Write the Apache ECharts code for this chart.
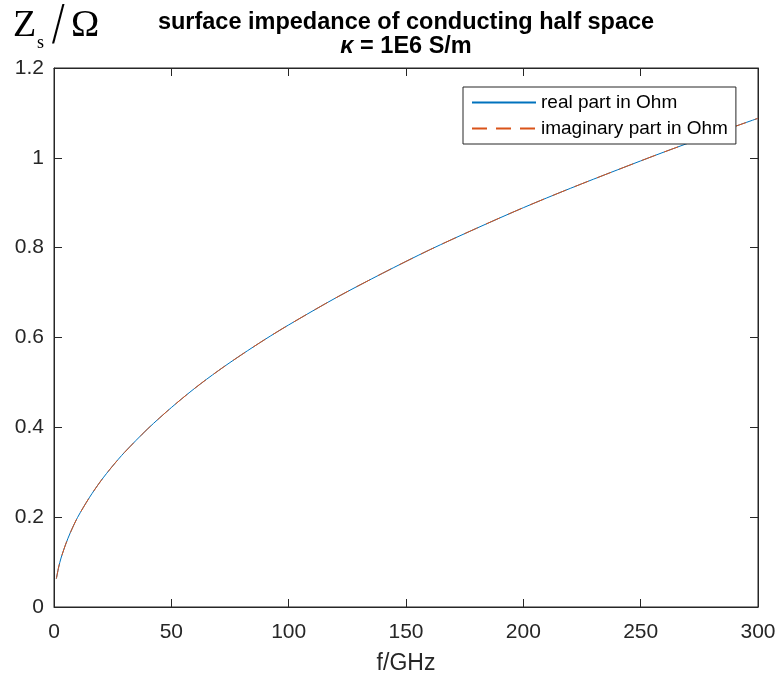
<!DOCTYPE html>
<html><head><meta charset="utf-8">
<script src="https://cdn.jsdelivr.net/npm/echarts@6/dist/echarts.min.js"></script>
<style>html,body{margin:0;padding:0;background:#fff}#c{width:780px;height:675px}</style>
</head><body><div id="c"></div>
<script>
const freqGHz = [1,2,3,5,7,10,15,20,25,30,40,50,60,70,80,90,100,120,140,160,180,200,220,240,260,280,300];
const realPart = [0.063,0.089,0.109,0.140,0.166,0.199,0.243,0.281,0.314,0.344,0.397,0.444,0.487,0.526,0.562,0.596,0.628,0.688,0.743,0.795,0.843,0.889,0.932,0.973,1.013,1.051,1.088];
const imagPart = [0.063,0.089,0.109,0.140,0.166,0.199,0.243,0.281,0.314,0.344,0.397,0.444,0.487,0.526,0.562,0.596,0.628,0.688,0.743,0.795,0.843,0.889,0.932,0.973,1.013,1.051,1.088];
const seriesNames = ['real part in Ohm','imaginary part in Ohm'];

const chart = echarts.init(document.getElementById('c'));
const axisCol = '#262626';
const font = 'Liberation Sans, Arial, sans-serif';
const serif = 'Liberation Serif, Times New Roman, serif';
function axis(extra){
  return Object.assign({
    axisLine:{show:true,onZero:false,lineStyle:{color:axisCol,width:1}},
    axisTick:{show:true,inside:true,length:8,lineStyle:{color:axisCol}},
    splitLine:{show:false},
    axisLabel:{color:axisCol,fontSize:21,fontFamily:font}
  },extra);
}
chart.setOption({
  animation:false,
  backgroundColor:'#fff',
  title:[
    {text:'surface impedance of conducting half space',left:406,top:11,textAlign:'center',padding:0,
     textStyle:{fontFamily:font,fontSize:23.5,fontWeight:'bold',color:'#000'}},
    {text:'{k|κ}{t| = 1E6 S/m}',left:406,top:35,textAlign:'center',padding:0,
     textStyle:{rich:{k:{fontFamily:font,fontSize:23.5,fontWeight:'bold',fontStyle:'italic',color:'#000'},
                      t:{fontFamily:font,fontSize:23.5,fontWeight:'bold',color:'#000'}}}}
  ],
  graphic:[
    {type:'text',x:13,y:26,style:{text:'Z',font:'38px '+serif,fill:'#000',verticalAlign:'middle'}},
    {type:'text',x:37,y:43,style:{text:'s',font:'18px '+serif,fill:'#000',verticalAlign:'middle'}},
    {type:'text',x:52,y:27,scaleX:0.75,style:{text:'/',font:'60px '+serif,fill:'#000',verticalAlign:'middle'}},
    {type:'text',x:71,y:26,style:{text:'Ω',font:'38px '+serif,fill:'#000',verticalAlign:'middle'}}
  ],
  legend:{orient:'vertical',left:463,top:87,data:seriesNames,
    backgroundColor:'#fff',borderColor:axisCol,borderWidth:1,padding:[6,8,6,8],
    itemWidth:64,itemHeight:20,itemGap:7,
    itemStyle:{opacity:0},
    textStyle:{fontFamily:font,fontSize:19,color:'#000'}},
  grid:{left:54,right:22,top:68,bottom:68,show:true,borderColor:axisCol,borderWidth:1,
    containLabel:false,outerBoundsMode:'none'},
  xAxis:[
    axis({type:'value',min:0,max:300,interval:50,position:'bottom',
      name:'f/GHz',nameLocation:'middle',nameGap:45,nameTextStyle:{fontFamily:font,fontSize:23,color:axisCol},
      axisLabel:{color:axisCol,fontSize:21,fontFamily:font,margin:15}}),
    axis({type:'value',min:0,max:300,interval:50,position:'top',axisLabel:{show:false}})
  ],
  yAxis:[
    axis({type:'value',min:0,max:1.2,interval:0.2,position:'left',
      axisLabel:{color:axisCol,fontSize:21,fontFamily:font,margin:10,formatter:v=>String(+v.toFixed(1))}}),
    axis({type:'value',min:0,max:1.2,interval:0.2,position:'right',axisLabel:{show:false}})
  ],
  series:[
    {name:seriesNames[0],type:'line',symbol:'none',smooth:0.3,
     data:freqGHz.map((f,i)=>[f,realPart[i]]),lineStyle:{color:'#0072BD',width:1},itemStyle:{color:'#0072BD'}},
    {name:seriesNames[1],type:'line',symbol:'none',smooth:0.3,
     data:freqGHz.map((f,i)=>[f,imagPart[i]]),lineStyle:{color:'#D95319',width:1,type:[15,9]},itemStyle:{color:'#D95319'}}
  ]
});
</script></body></html>
